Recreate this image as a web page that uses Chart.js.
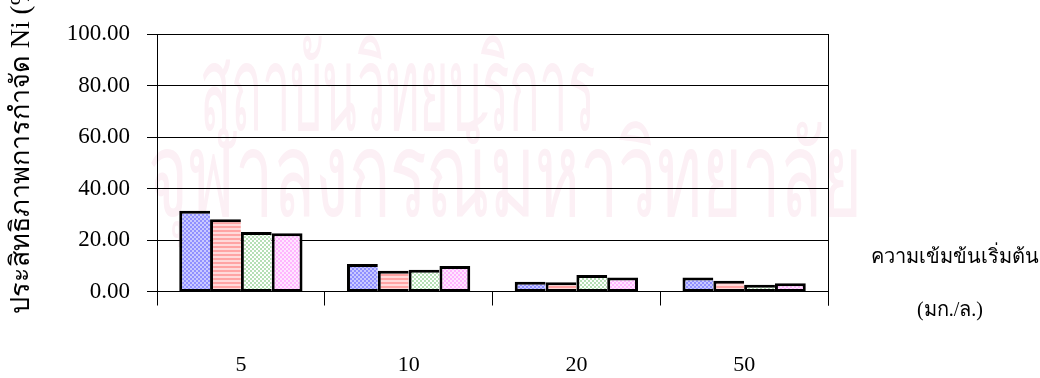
<!DOCTYPE html>
<html>
<head>
<meta charset="utf-8">
<script src="https://cdn.jsdelivr.net/npm/chart.js@4.4.1/dist/chart.umd.min.js"></script>
<style>
  html, body { margin: 0; padding: 0; background: #ffffff; }
  #wrap { position: relative; width: 1040px; height: 378px; }
</style>
</head>
<body>
<div id="wrap"><canvas id="c" width="1040" height="378"></canvas></div>
<script>
// Initial concentration (mg/L) groups and the Ni removal efficiency (%) of each series
const categories = ['5', '10', '20', '50'];
const seriesA = [31.4, 10.7, 3.8, 5.4];
const seriesB = [28.1, 8.1, 3.6, 4.2];
const seriesC = [23.1, 8.4, 6.4, 2.6];
const seriesD = [22.6, 9.9, 5.4, 3.2];
const yTicks = [0, 20, 40, 60, 80, 100];

const yTitle = 'ประสิทธิภาพการกำจัด Ni (%)';
const xTitleLine1 = 'ความเข้มข้นเริ่มต้น';
const xTitleLine2 = '(มก./ล.)';
const markLine1 = 'สถาบันวิทยบริการ';
const markLine2 = 'จุฬาลงกรณ์มหาวิทยาลัย';

const SERIF = "'Liberation Serif', 'Times New Roman', serif";

// Small tiled fills in the style of classic office-chart hatches
function makePattern(size, painter) {
  const c = document.createElement('canvas');
  c.width = size; c.height = size;
  const g = c.getContext('2d');
  painter(g);
  return g.createPattern(c, 'repeat');
}
function checker(a, b) {
  return makePattern(4, g => {
    g.fillStyle = a; g.fillRect(0, 0, 4, 4);
    g.fillStyle = b; g.fillRect(0, 0, 2, 2); g.fillRect(2, 2, 2, 2);
  });
}
function stripes(a, b) {
  return makePattern(4, g => {
    g.fillStyle = a; g.fillRect(0, 0, 4, 4);
    g.fillStyle = b; g.fillRect(0, 2, 4, 2);
  });
}
const fillA = checker('#c9c9ff', '#9090ff');
const fillB = stripes('#ffdada', '#ffa4a4');
const fillC = checker('#ffffff', '#b6dfb6');
const fillD = checker('#ffe6ff', '#ffb6ff');

// Faint background lettering behind the plot
const backdrop = {
  id: 'backdrop',
  beforeDraw(chart) {
    const ctx = chart.ctx;
    ctx.save();
    ctx.fillStyle = '#fcf0f5';
    ctx.textBaseline = 'alphabetic';
    ctx.textAlign = 'left';
    const put = (txt, x, yBase, w, size) => {
      ctx.font = size + "px 'DejaVu Sans', sans-serif";
      const m = ctx.measureText(txt).width;
      ctx.save();
      ctx.translate(x, yBase);
      ctx.scale(w / m, 1);
      ctx.fillText(txt, 0, 0);
      ctx.restore();
    };
    put(markLine1, 200, 130, 395, 118);
    put(markLine2, 148, 216, 714, 118);
    ctx.restore();
  }
};

// Axis titles, right frame edge
const decorations = {
  id: 'decorations',
  afterDraw(chart) {
    const ctx = chart.ctx;
    const a = chart.chartArea;
    ctx.save();
    ctx.strokeStyle = '#000';
    ctx.lineWidth = 1;
    ctx.beginPath();
    ctx.moveTo(Math.round(a.right) + 0.5, a.top);
    ctx.lineTo(Math.round(a.right) + 0.5, a.bottom + 14);
    ctx.stroke();

    ctx.fillStyle = '#000';
    ctx.font = '27px ' + SERIF;
    ctx.textBaseline = 'middle';
    ctx.save();
    ctx.translate(22, 314);
    ctx.rotate(-Math.PI / 2);
    ctx.textAlign = 'left';
    ctx.fillText(yTitle, 0, 0);
    ctx.restore();

    ctx.textAlign = 'center';
    ctx.font = '20px ' + SERIF;
    ctx.fillText(xTitleLine1, 955, 258);
    ctx.fillText(xTitleLine2, 950, 311);
    ctx.restore();
  }
};

// Adjacent bars share one heavy outline: only the last bar of a group closes its right side
const ds = (data, fill, last) => ({
  data: data,
  backgroundColor: fill,
  borderColor: '#000',
  borderWidth: { top: 3, left: 3, bottom: 2, right: last ? 3 : 0 },
  borderSkipped: false,
  categoryPercentage: 0.735,
  barPercentage: 1.0
});

new Chart(document.getElementById('c'), {
  type: 'bar',
  data: {
    labels: categories,
    datasets: [ds(seriesA, fillA), ds(seriesB, fillB), ds(seriesC, fillC), ds(seriesD, fillD, true)]
  },
  options: {
    responsive: false,
    animation: false,
    devicePixelRatio: 1,
    layout: { padding: { top: 34, right: 212, left: 0, bottom: 0 } },
    plugins: { legend: { display: false }, tooltip: { enabled: false } },
    scales: {
      x: {
        grid: {
          offset: true,
          drawOnChartArea: false,
          drawTicks: true,
          tickLength: 14,
          color: '#000'
        },
        border: { color: '#000', width: 1 },
        ticks: { color: '#000', font: { family: SERIF, size: 22 }, padding: 47 },
        afterFit(s) { s.height = 378 - 291.5; }
      },
      y: {
        min: 0,
        max: 100,
        afterBuildTicks(s) { s.ticks = yTicks.map(v => ({ value: v })); },
        grid: { color: '#000', lineWidth: 1, tickLength: 10, drawTicks: true },
        border: { color: '#000', width: 1 },
        ticks: {
          color: '#000',
          font: { family: SERIF, size: 23 },
          padding: 17,
          callback: v => Number(v).toFixed(2)
        },
        afterFit(s) { s.width = 157; }
      }
    }
  },
  plugins: [backdrop, decorations]
});
</script>
</body>
</html>
